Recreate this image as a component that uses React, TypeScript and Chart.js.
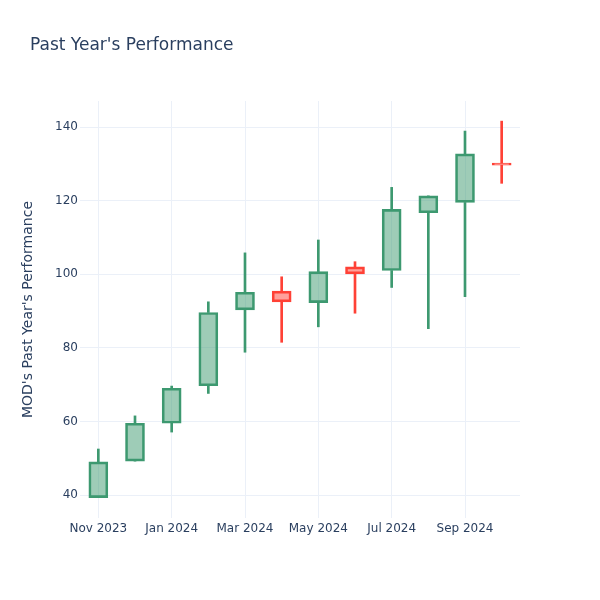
import React, { useEffect, useRef } from 'react';
import { Chart, registerables } from 'chart.js';

Chart.register(...registerables);

// Monthly candles, index 0 = Nov 2023 ... 11 = Oct 2024
const months = ['Nov 2023', 'Dec 2023', 'Jan 2024', 'Feb 2024', 'Mar 2024', 'Apr 2024', 'May 2024', 'Jun 2024', 'Jul 2024', 'Aug 2024', 'Sep 2024', 'Oct 2024'];
const opens = [39.3, 49.2, 59.5, 69.7, 90.3, 95.4, 92.3, 102.0, 101.0, 116.7, 119.5, 130.2];
const highs = [52.5, 61.5, 69.6, 92.5, 105.8, 99.3, 109.3, 103.4, 123.6, 121.3, 138.9, 141.6];
const lows = [39.3, 49.2, 57.1, 67.6, 78.8, 81.5, 85.7, 89.4, 96.4, 85.2, 93.9, 124.7];
const closes = [49.0, 59.5, 69.0, 89.6, 95.1, 92.5, 100.7, 100.1, 117.6, 121.3, 132.7, 129.6];

const xTickIndex = [0, 2, 4, 6, 8, 10];
const xTickLabels = ['Nov 2023', 'Jan 2024', 'Mar 2024', 'May 2024', 'Jul 2024', 'Sep 2024'];
const yTickValues = [40, 60, 80, 100, 120, 140];

const chartTitle = "Past Year's Performance";
const yAxisTitle = "MOD's Past Year's Performance";

const UP = '#3D9970';
const UP_FILL = 'rgba(61,153,112,0.5)';
const DOWN = '#FF4136';
const DOWN_FILL = 'rgba(255,65,54,0.5)';
const FONT = "'DejaVu Sans', Verdana, sans-serif";
const TEXT = '#2a3f5f';
const GRID = '#EBF0F8';

export default function App() {
  const ref = useRef<HTMLCanvasElement>(null);

  useEffect(() => {
    if (!ref.current) return;
    const isUp = opens.map((o, i) => closes[i] > o);
    const lineColors = isUp.map((u) => (u ? UP : DOWN));
    const fillColors = isUp.map((u) => (u ? UP_FILL : DOWN_FILL));

    const bodies = months.map((_, i) => ({ x: i, y: [opens[i], closes[i]] }));
    const lowerWicks = months.map((_, i) => ({ x: i, y: [lows[i], Math.min(opens[i], closes[i])] }));
    const upperWicks = months.map((_, i) => ({ x: i, y: [Math.max(opens[i], closes[i]), highs[i]] }));

    const titlePlugin = {
      id: 'plotTitle',
      afterDraw(chart: any) {
        const ctx = chart.ctx;
        ctx.save();
        ctx.font = `17px ${FONT}`;
        ctx.fillStyle = TEXT;
        ctx.textAlign = 'left';
        ctx.textBaseline = 'middle';
        ctx.fillText(chartTitle, 30, 46);
        ctx.restore();
      },
    };

    const chart = new Chart(ref.current, {
      type: 'bar',
      data: {
        datasets: [
          {
            label: 'lower wick',
            data: lowerWicks as any,
            backgroundColor: lineColors,
            borderWidth: 0,
            barThickness: 2,
            order: 2,
          },
          {
            label: 'upper wick',
            data: upperWicks as any,
            backgroundColor: lineColors,
            borderWidth: 0,
            barThickness: 2,
            order: 2,
          },
          {
            label: 'body',
            data: bodies as any,
            backgroundColor: fillColors,
            borderColor: lineColors,
            borderWidth: 2,
            borderSkipped: false,
            barThickness: 19,
            order: 1,
          },
        ],
      },
      options: {
        animation: false,
        responsive: false,
        events: [],
        datasets: { bar: { grouped: false } } as any,
        layout: { padding: { top: 101, right: 80, left: 0, bottom: 0 } },
        plugins: {
          legend: { display: false },
          tooltip: { enabled: false },
          title: { display: false },
        },
        scales: {
          x: {
            type: 'linear',
            min: -0.5,
            max: 11.5,
            offset: false,
            grid: { color: GRID, lineWidth: 1, drawTicks: false, offset: false },
            border: { display: false },
            ticks: {
              color: TEXT,
              font: { family: FONT, size: 12 },
              padding: 4,
              maxRotation: 0,
              autoSkip: false,
              callback: (v: any) => {
                const k = xTickIndex.indexOf(Number(v));
                return k >= 0 ? xTickLabels[k] : '';
              },
            },
            afterBuildTicks: (s: any) => {
              s.ticks = xTickIndex.map((v) => ({ value: v }));
            },
            afterFit: (s: any) => {
              s.height = 82;
            },
          },
          y: {
            type: 'linear',
            min: 33.75,
            max: 147.07,
            grid: { color: GRID, lineWidth: 1, drawTicks: false },
            border: { display: false },
            ticks: {
              color: TEXT,
              font: { family: FONT, size: 12 },
              padding: 2,
            },
            afterBuildTicks: (s: any) => {
              s.ticks = yTickValues.map((v) => ({ value: v }));
            },
            afterFit: (s: any) => {
              s.width = 80;
            },
            title: {
              display: true,
              text: yAxisTitle,
              color: TEXT,
              font: { family: FONT, size: 14 },
              padding: { top: 20, bottom: 0 },
            },
          },
        },
      },
      plugins: [titlePlugin],
    });

    return () => chart.destroy();
  }, []);

  return (
    <div style={{ position: 'fixed', left: 0, top: 0, width: 600, height: 600, background: '#fff' }}>
      <canvas ref={ref} width={600} height={600} style={{ display: 'block', width: 600, height: 600 }} />
    </div>
  );
}
